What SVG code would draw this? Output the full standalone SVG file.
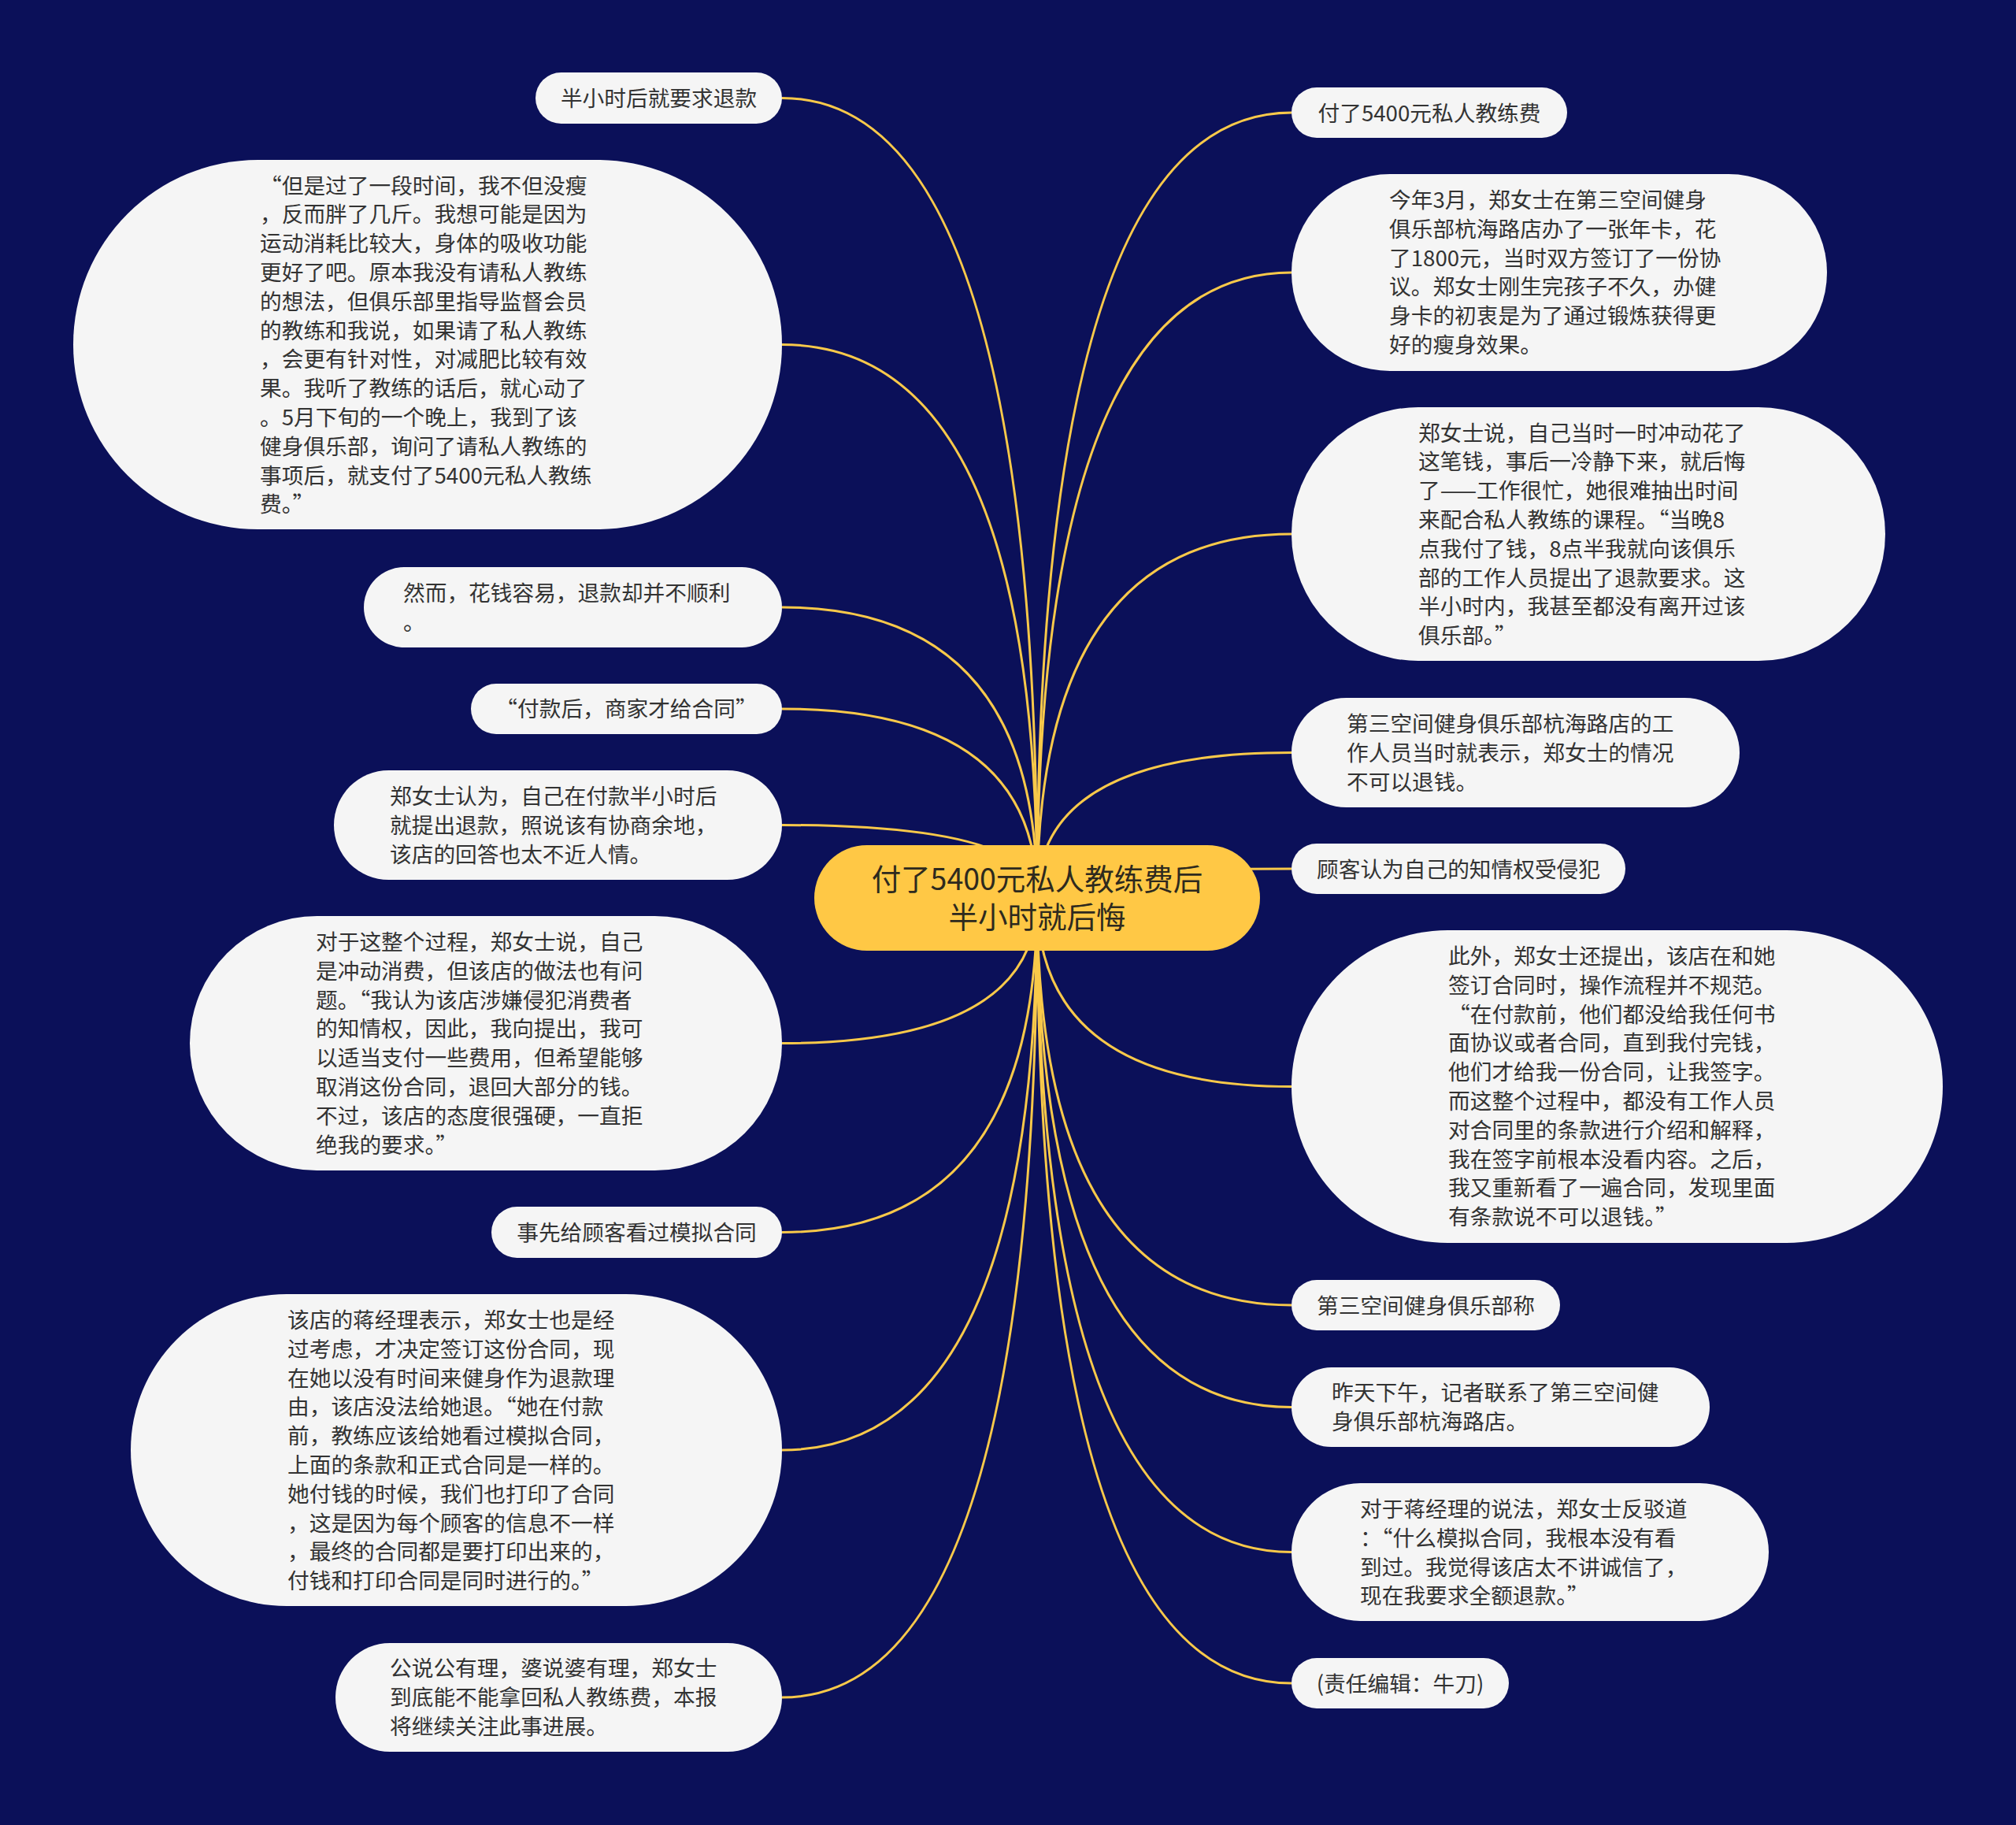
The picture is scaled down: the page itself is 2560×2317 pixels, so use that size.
<svg xmlns="http://www.w3.org/2000/svg" width="2560" height="2317" viewBox="0 0 2560 2317">
<style>
.bg{fill:#0b1059}
.n{fill:#f5f5f5}
.c{fill:#ffc845}
.t{font-family:"Noto Sans CJK SC","Noto Sans",sans-serif;font-size:27.7px;fill:#333333}
.m{text-anchor:middle}
.ct{font-family:"Noto Sans CJK SC","Noto Sans",sans-serif;font-size:37.5px;fill:#2e2a1e;text-anchor:middle}
.e{fill:none;stroke:#f9c94a;stroke-width:3}
</style>
<rect class="bg" x="0" y="0" width="2560" height="2317"/>
<g id="connectors">
<path class="e" d="M993 124.5 Q1317 124.5 1317 1140"/>
<path class="e" d="M993 437.5 Q1317 437.5 1317 1140"/>
<path class="e" d="M993 771 Q1317 771 1317 1140"/>
<path class="e" d="M993 900 Q1317 900 1317 1140"/>
<path class="e" d="M993 1047.5 Q1317 1047.5 1317 1140"/>
<path class="e" d="M993 1324.5 Q1317 1324.5 1317 1140"/>
<path class="e" d="M993 1564.5 Q1317 1564.5 1317 1140"/>
<path class="e" d="M993 1841 Q1317 1841 1317 1140"/>
<path class="e" d="M993 2155 Q1317 2155 1317 1140"/>
<path class="e" d="M1640 143 Q1317 143 1317 1140"/>
<path class="e" d="M1640 346 Q1317 346 1317 1140"/>
<path class="e" d="M1640 678 Q1317 678 1317 1140"/>
<path class="e" d="M1640 955.5 Q1317 955.5 1317 1140"/>
<path class="e" d="M1640 1103 Q1317 1103 1317 1140"/>
<path class="e" d="M1640 1379.5 Q1317 1379.5 1317 1140"/>
<path class="e" d="M1640 1657 Q1317 1657 1317 1140"/>
<path class="e" d="M1640 1786.5 Q1317 1786.5 1317 1140"/>
<path class="e" d="M1640 1970.5 Q1317 1970.5 1317 1140"/>
<path class="e" d="M1640 2137 Q1317 2137 1317 1140"/>
</g>
<g id="center">
<rect class="c" x="1034" y="1073" width="566" height="134" rx="67"/>
<text class="ct" x="1317" y="1130">付了5400元私人教练费后<tspan x="1317" dy="48">半小时就后悔</tspan></text>
</g>
<g id="L1">
<rect class="n" x="680" y="92" width="313" height="65" rx="32.5"/>
<text class="t m" x="836.5" y="135">半小时后就要求退款</text>
</g>
<g id="L2">
<rect class="n" x="93" y="203" width="900" height="469" rx="234.5"/>
<text class="t" x="330" y="245.5">“但是过了一段时间，我不但没瘦<tspan x="330" dy="36.8">，反而胖了几斤。我想可能是因为</tspan><tspan x="330" dy="36.8">运动消耗比较大，身体的吸收功能</tspan><tspan x="330" dy="36.8">更好了吧。原本我没有请私人教练</tspan><tspan x="330" dy="36.8">的想法，但俱乐部里指导监督会员</tspan><tspan x="330" dy="36.8">的教练和我说，如果请了私人教练</tspan><tspan x="330" dy="36.8">，会更有针对性，对减肥比较有效</tspan><tspan x="330" dy="36.8">果。我听了教练的话后，就心动了</tspan><tspan x="330" dy="36.8">。5月下旬的一个晚上，我到了该</tspan><tspan x="330" dy="36.8">健身俱乐部，询问了请私人教练的</tspan><tspan x="330" dy="36.8">事项后，就支付了5400元私人教练</tspan><tspan x="330" dy="36.8">费。”</tspan></text>
</g>
<g id="L3">
<rect class="n" x="462" y="720" width="531" height="102" rx="51"/>
<text class="t" x="512" y="763">然而，花钱容易，退款却并不顺利<tspan x="512" dy="36.8">。</tspan></text>
</g>
<g id="L4">
<rect class="n" x="598" y="868" width="395" height="64" rx="32"/>
<text class="t m" x="795.5" y="910">“付款后，商家才给合同”</text>
</g>
<g id="L5">
<rect class="n" x="424" y="978" width="569" height="139" rx="69.5"/>
<text class="t" x="495" y="1021">郑女士认为，自己在付款半小时后<tspan x="495" dy="36.8">就提出退款，照说该有协商余地，</tspan><tspan x="495" dy="36.8">该店的回答也太不近人情。</tspan></text>
</g>
<g id="L6">
<rect class="n" x="241" y="1163" width="752" height="323" rx="161.5"/>
<text class="t" x="401" y="1206">对于这整个过程，郑女士说，自己<tspan x="401" dy="36.8">是冲动消费，但该店的做法也有问</tspan><tspan x="401" dy="36.8">题。“我认为该店涉嫌侵犯消费者</tspan><tspan x="401" dy="36.8">的知情权，因此，我向提出，我可</tspan><tspan x="401" dy="36.8">以适当支付一些费用，但希望能够</tspan><tspan x="401" dy="36.8">取消这份合同，退回大部分的钱。</tspan><tspan x="401" dy="36.8">不过，该店的态度很强硬，一直拒</tspan><tspan x="401" dy="36.8">绝我的要求。”</tspan></text>
</g>
<g id="L7">
<rect class="n" x="624" y="1532" width="369" height="65" rx="32.5"/>
<text class="t m" x="808.5" y="1575">事先给顾客看过模拟合同</text>
</g>
<g id="L8">
<rect class="n" x="166" y="1643" width="827" height="396" rx="198"/>
<text class="t" x="365" y="1686">该店的蒋经理表示，郑女士也是经<tspan x="365" dy="36.8">过考虑，才决定签订这份合同，现</tspan><tspan x="365" dy="36.8">在她以没有时间来健身作为退款理</tspan><tspan x="365" dy="36.8">由，该店没法给她退。“她在付款</tspan><tspan x="365" dy="36.8">前，教练应该给她看过模拟合同，</tspan><tspan x="365" dy="36.8">上面的条款和正式合同是一样的。</tspan><tspan x="365" dy="36.8">她付钱的时候，我们也打印了合同</tspan><tspan x="365" dy="36.8">，这是因为每个顾客的信息不一样</tspan><tspan x="365" dy="36.8">，最终的合同都是要打印出来的，</tspan><tspan x="365" dy="36.8">付钱和打印合同是同时进行的。”</tspan></text>
</g>
<g id="L9">
<rect class="n" x="426" y="2086" width="567" height="138" rx="69"/>
<text class="t" x="495" y="2128">公说公有理，婆说婆有理，郑女士<tspan x="495" dy="36.8">到底能不能拿回私人教练费，本报</tspan><tspan x="495" dy="36.8">将继续关注此事进展。</tspan></text>
</g>
<g id="R1">
<rect class="n" x="1640" y="111" width="350" height="64" rx="32"/>
<text class="t m" x="1815" y="153.5">付了5400元私人教练费</text>
</g>
<g id="R2">
<rect class="n" x="1640" y="221" width="680" height="250" rx="125"/>
<text class="t" x="1764" y="264">今年3月，郑女士在第三空间健身<tspan x="1764" dy="36.8">俱乐部杭海路店办了一张年卡，花</tspan><tspan x="1764" dy="36.8">了1800元，当时双方签订了一份协</tspan><tspan x="1764" dy="36.8">议。郑女士刚生完孩子不久，办健</tspan><tspan x="1764" dy="36.8">身卡的初衷是为了通过锻炼获得更</tspan><tspan x="1764" dy="36.8">好的瘦身效果。</tspan></text>
</g>
<g id="R3">
<rect class="n" x="1640" y="517" width="754" height="322" rx="161"/>
<text class="t" x="1801" y="559.5">郑女士说，自己当时一时冲动花了<tspan x="1801" dy="36.8">这笔钱，事后一冷静下来，就后悔</tspan><tspan x="1801" dy="36.8">了——工作很忙，她很难抽出时间</tspan><tspan x="1801" dy="36.8">来配合私人教练的课程。“当晚8</tspan><tspan x="1801" dy="36.8">点我付了钱，8点半我就向该俱乐</tspan><tspan x="1801" dy="36.8">部的工作人员提出了退款要求。这</tspan><tspan x="1801" dy="36.8">半小时内，我甚至都没有离开过该</tspan><tspan x="1801" dy="36.8">俱乐部。”</tspan></text>
</g>
<g id="R4">
<rect class="n" x="1640" y="886" width="569" height="139" rx="69.5"/>
<text class="t" x="1710" y="929">第三空间健身俱乐部杭海路店的工<tspan x="1710" dy="36.8">作人员当时就表示，郑女士的情况</tspan><tspan x="1710" dy="36.8">不可以退钱。</tspan></text>
</g>
<g id="R5">
<rect class="n" x="1640" y="1071" width="424" height="64" rx="32"/>
<text class="t m" x="1852" y="1113.5">顾客认为自己的知情权受侵犯</text>
</g>
<g id="R6">
<rect class="n" x="1640" y="1181" width="827" height="397" rx="198.5"/>
<text class="t" x="1839" y="1224">此外，郑女士还提出，该店在和她<tspan x="1839" dy="36.8">签订合同时，操作流程并不规范。</tspan><tspan x="1839" dy="36.8">“在付款前，他们都没给我任何书</tspan><tspan x="1839" dy="36.8">面协议或者合同，直到我付完钱，</tspan><tspan x="1839" dy="36.8">他们才给我一份合同，让我签字。</tspan><tspan x="1839" dy="36.8">而这整个过程中，都没有工作人员</tspan><tspan x="1839" dy="36.8">对合同里的条款进行介绍和解释，</tspan><tspan x="1839" dy="36.8">我在签字前根本没看内容。之后，</tspan><tspan x="1839" dy="36.8">我又重新看了一遍合同，发现里面</tspan><tspan x="1839" dy="36.8">有条款说不可以退钱。”</tspan></text>
</g>
<g id="R7">
<rect class="n" x="1640" y="1625" width="341" height="64" rx="32"/>
<text class="t m" x="1810.5" y="1667.5">第三空间健身俱乐部称</text>
</g>
<g id="R8">
<rect class="n" x="1640" y="1736" width="531" height="101" rx="50.5"/>
<text class="t" x="1691" y="1778">昨天下午，记者联系了第三空间健<tspan x="1691" dy="36.8">身俱乐部杭海路店。</tspan></text>
</g>
<g id="R9">
<rect class="n" x="1640" y="1883" width="606" height="175" rx="87.5"/>
<text class="t" x="1727" y="1926">对于蒋经理的说法，郑女士反驳道<tspan x="1727" dy="36.8">：“什么模拟合同，我根本没有看</tspan><tspan x="1727" dy="36.8">到过。我觉得该店太不讲诚信了，</tspan><tspan x="1727" dy="36.8">现在我要求全额退款。”</tspan></text>
</g>
<g id="R10">
<rect class="n" x="1640" y="2105" width="276" height="64" rx="32"/>
<text class="t m" x="1778" y="2147.5">(责任编辑：牛刀)</text>
</g>
</svg>
